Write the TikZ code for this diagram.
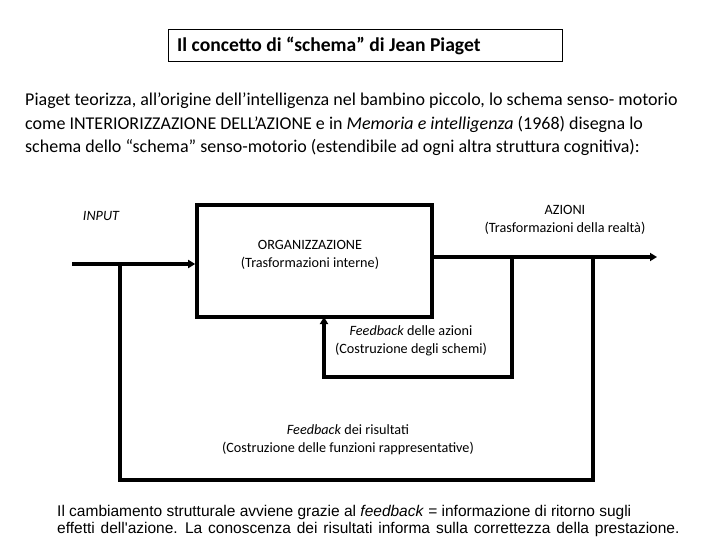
\documentclass[tikz,border=0pt]{standalone}
\usepackage{fontspec}
\setmainfont{Carlito}
\newfontfamily\arialf{Liberation Sans}
\usetikzlibrary{arrows.meta}
\begin{document}
\begin{tikzpicture}[x=1pt,y=-1pt,
  thick line/.style={line width=3.6pt},
  arr/.style={-{Triangle[length=7pt,width=8pt]}},
  lab/.style={align=center,font=\fontsize{14.2}{18}\selectfont,inner sep=0pt},
  para/.style={anchor=base west,inner sep=0pt,font=\fontsize{18}{20}\selectfont},
  foot/.style={anchor=base west,inner sep=0pt,font=\arialf\fontsize{15.5}{17}\selectfont}]
\useasboundingbox (0,0) rectangle (720,540);
% title
\draw[line width=1pt] (168,30) rectangle (562,62);
\node[anchor=west,inner sep=0pt,font=\bfseries\fontsize{19.6}{22}\selectfont] (title) at (177,46) {Il concetto di “schema” di Jean Piaget};
% paragraph
\node[para] (p1) at (25,106) {Piaget teorizza, all’origine dell’intelligenza nel bambino piccolo, lo schema senso- motorio};
\node[para] (p2) at (25,130) {come INTERIORIZZAZIONE DELL’AZIONE e in \textit{Memoria e intelligenza} (1968) disegna lo};
\node[para] (p3) at (25,153) {schema dello “schema” senso-motorio (estendibile ad ogni altra struttura cognitiva):};
% main box
\node[draw,thick line,minimum width=235pt,minimum height=112pt,inner sep=0pt] (org) at (314.5,261) {};
\coordinate (in0) at (72,264);
\coordinate (inj) at (120,264);
\coordinate (out0) at (432,257);
\coordinate (outend) at (657,257);
\coordinate (j1) at (512,257);
\coordinate (j2) at (593,257);
\coordinate (j1b) at (512,377);
\coordinate (c1) at (324,377);
\coordinate (c1t) at (324,317);
\coordinate (j2b) at (593,480);
\coordinate (c2) at (120,480);
\draw[thick line,arr] (in0) -- (in0 -| org.west);
\draw[thick line,arr] (out0) -- (outend);
\draw[thick line,arr,line join=miter] (j1) -- (j1b) -- (c1) -- (c1t);
\draw[thick line,line join=miter] (j2) -- (j2b) -- (c2) -- (inj);
% labels
\node[lab,font=\itshape\fontsize{14.2}{18}\selectfont] (inlab) at (101,216) {INPUT};
\node[lab] (az) at (565,220) {AZIONI\\(Trasformazioni della realtà)};
\node[lab] (orglab) at (310,255) {ORGANIZZAZIONE\\(Trasformazioni interne)};
\node[lab] (fb1) at (411,341) {\textit{Feedback} delle azioni\\(Costruzione degli schemi)};
\node[lab] (fb2) at (348,440) {\textit{Feedback} dei risultati\\(Costruzione delle funzioni rappresentative)};
% footer
\node[foot] (f1) at (57,516) {Il cambiamento strutturale avviene grazie al \textit{feedback} = informazione di ritorno sugli};
\node[foot] (f2) at (57,533) {\spaceskip=5.9pt\relax effetti dell'azione. La conoscenza dei risultati informa sulla correttezza della prestazione.};
\end{tikzpicture}
\end{document}
